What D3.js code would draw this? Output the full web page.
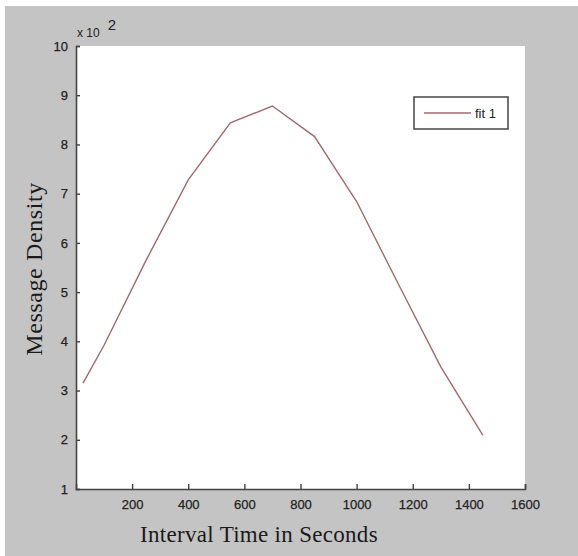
<!DOCTYPE html>
<html>
<head>
<meta charset="utf-8">
<script src="https://cdn.jsdelivr.net/npm/d3@7"></script>
<style>
    html, body { margin: 0; padding: 0; background: #fff; }
    #chart svg { display: block; }
</style>
</head>
<body>
<div id="chart"></div>
<script>
(function () {
    'use strict';

    // interval (s) and density (x 10^2)
    const intervals = [25, 100, 250, 400, 550, 700, 850, 1000, 1150, 1300, 1450];
    const densities = [3.15, 3.92, 5.65, 7.28, 8.44, 8.78, 8.16, 6.84, 5.15, 3.48, 2.09];
    const xTicks = [200, 400, 600, 800, 1000, 1200, 1400, 1600];
    const yTicks = [1, 2, 3, 4, 5, 6, 7, 8, 9, 10];
    const seriesName = 'fit 1';

    const W = 578, H = 556;
    const margin = { top: 46, right: 53, bottom: 67, left: 76 };
    const width = W - margin.left - margin.right;
    const height = H - margin.top - margin.bottom;

    const svg = d3.select('#chart').append('svg')
        .attr('width', W).attr('height', H);

    // figure background, white strip on top/left like the scan
    svg.append('rect').attr('x', 5).attr('y', 6)
        .attr('width', W - 5).attr('height', H - 6).attr('fill', '#c4c4c4');

    const g = svg.append('g')
        .attr('transform', 'translate(' + margin.left + ',' + margin.top + ')');

    g.append('rect').attr('width', width).attr('height', height).attr('fill', '#fff');

    const xScale = d3.scaleLinear().domain([0, 1600]).range([0, width]);
    const yScale = d3.scaleLinear().domain([1, 10]).range([height, 0]);

    const xAxis = d3.axisBottom(xScale).tickValues(xTicks).tickSize(-5).tickPadding(11)
        .tickFormat(d3.format('d'));
    const yAxis = d3.axisLeft(yScale).tickValues(yTicks).tickSize(-4).tickPadding(8)
        .tickFormat(d3.format('d'));

    const styleAxis = function (sel) {
        sel.select('.domain').attr('stroke', '#444').attr('stroke-width', 1.6);
        sel.selectAll('.tick line').attr('stroke', '#444').attr('stroke-width', 1.4);
        sel.selectAll('.tick text').attr('fill', '#222')
            .style('font-family', '"Liberation Sans", Arial, sans-serif')
            .style('font-size', '13px')
            .style('stroke', '#222').style('stroke-width', 0.25);
    };

    g.append('g').attr('transform', 'translate(0,' + height + ')')
        .call(xAxis).call(styleAxis);
    g.append('g').call(yAxis).call(styleAxis);

    // exponent label
    const expo = g.append('text').attr('x', 1).attr('y', -9)
        .attr('fill', '#222')
        .style('font-family', '"Liberation Sans", Arial, sans-serif')
        .style('font-size', '12px');
    expo.append('tspan').text('x 10');
    expo.append('tspan').attr('dx', 8).attr('dy', -7).style('font-size', '15px').text('2');

    const line = d3.line()
        .x(function (d, i) { return xScale(intervals[i]); })
        .y(function (d) { return yScale(d); });

    g.append('path').datum(densities)
        .attr('d', line)
        .attr('fill', 'none')
        .attr('stroke', '#a06a6e')
        .attr('stroke-width', 1.4);

    // legend
    const legend = g.append('g').attr('transform', 'translate(' + (414 - margin.left) + ',' + (97 - margin.top) + ')');
    legend.append('rect').attr('width', 94).attr('height', 32)
        .attr('fill', '#fff').attr('stroke', '#444').attr('stroke-width', 1.5);
    legend.append('line').attr('x1', 10).attr('x2', 57).attr('y1', 16).attr('y2', 16)
        .attr('stroke', '#a06a6e').attr('stroke-width', 1.4);
    legend.append('text').attr('x', 61).attr('y', 21).text(seriesName)
        .attr('fill', '#222')
        .style('font-family', '"Liberation Sans", Arial, sans-serif')
        .style('font-size', '13px');

    // axis titles
    svg.append('text')
        .attr('x', 259).attr('y', 542)
        .attr('text-anchor', 'middle')
        .attr('fill', '#1a1a1a')
        .style('font-family', '"Liberation Serif", "Times New Roman", serif')
        .style('font-size', '23px')
        .style('letter-spacing', '0.3px')
        .text('Interval Time in Seconds');

    svg.append('text')
        .attr('transform', 'translate(42,' + 269 + ') rotate(-90)')
        .attr('text-anchor', 'middle')
        .attr('fill', '#1a1a1a')
        .style('font-family', '"Liberation Serif", "Times New Roman", serif')
        .style('font-size', '24px')
        .style('letter-spacing', '0.6px')
        .text('Message Density');
}());
</script>
</body>
</html>
